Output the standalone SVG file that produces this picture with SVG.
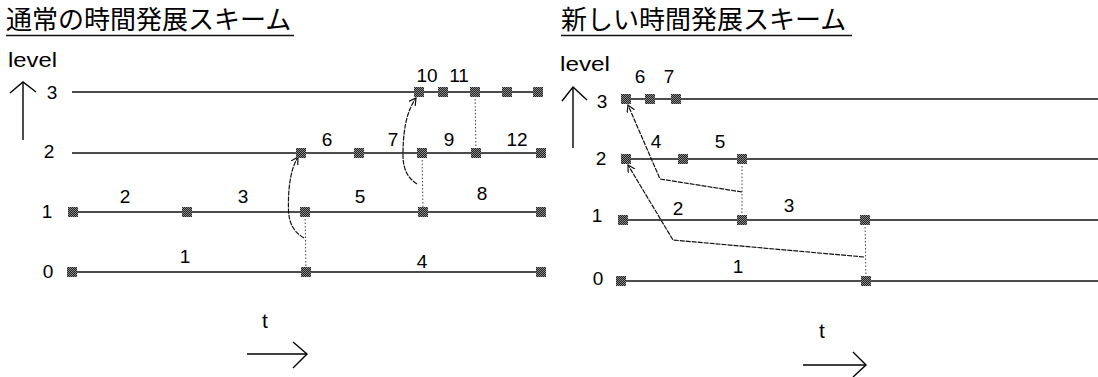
<svg xmlns="http://www.w3.org/2000/svg" width="1098" height="377" viewBox="0 0 1098 377">
<style>
.title{font-family:"Noto Sans CJK JP","Noto Sans",sans-serif;font-size:26px;fill:#000}
.t{font-family:"Liberation Sans",Arial,sans-serif;font-size:19px;fill:#000}
.lv{font-family:"Liberation Sans",Arial,sans-serif;font-size:20px;fill:#000}
.tt{font-family:"Liberation Sans",Arial,sans-serif;font-size:21px;fill:#000}
.line{stroke:#111;stroke-width:1.3;fill:none}
.ul{stroke:#111;stroke-width:1.7}
.dot{stroke:#444;stroke-width:1;stroke-dasharray:1.5,2;fill:none}
.conn{stroke:#111;stroke-width:1.2;fill:none;stroke-dasharray:5,1}
.ax{stroke:#000;stroke-width:1.4;fill:none}
.node{fill:url(#hatch)}
</style>
<defs>
<pattern id="hatch" width="2" height="2" patternUnits="userSpaceOnUse">
<rect width="2" height="2" fill="#222"/>
<rect width="1" height="1" fill="#8a8a8a"/>
<rect x="1" y="1" width="1" height="1" fill="#8a8a8a"/>
</pattern>
<marker id="ah" markerWidth="10" markerHeight="10" refX="7" refY="4" orient="auto" markerUnits="userSpaceOnUse">
<path d="M0,0 L7,4 L0,8" fill="none" stroke="#111" stroke-width="1.2"/>
</marker>
</defs>

<g id="title-left">
<text class="title" x="6" y="29">通常の時間発展スキーム</text>
<line class="ul" x1="6" y1="35.5" x2="294" y2="35.5"/>
</g>
<g id="title-right">
<text class="title" x="561" y="29">新しい時間発展スキーム</text>
<line class="ul" x1="561" y1="35.5" x2="852" y2="35.5"/>
</g>

<g id="axes-left">
<text class="lv" x="8" y="67" textLength="49" lengthAdjust="spacingAndGlyphs">level</text>
<line class="ax" x1="23" y1="82" x2="23" y2="140"/>
<polyline class="ax" points="10,93 23,82 36,92"/>
<text class="t" x="52" y="99" text-anchor="middle">3</text>
<text class="t" x="49" y="158" text-anchor="middle">2</text>
<text class="t" x="47" y="218" text-anchor="middle">1</text>
<text class="t" x="48" y="278" text-anchor="middle">0</text>
<text class="tt" x="265" y="328" text-anchor="middle">t</text>
<line class="ax" x1="247" y1="354" x2="307" y2="354"/>
<polyline class="ax" points="293,342 307,354 293,368"/>
</g>

<g id="axes-right">
<text class="lv" x="560" y="71" textLength="50" lengthAdjust="spacingAndGlyphs">level</text>
<line class="ax" x1="573" y1="87" x2="573" y2="148"/>
<polyline class="ax" points="562,101 573,87 587,100"/>
<text class="t" x="602" y="108" text-anchor="middle">3</text>
<text class="t" x="601" y="165" text-anchor="middle">2</text>
<text class="t" x="597" y="222" text-anchor="middle">1</text>
<text class="t" x="598" y="285" text-anchor="middle">0</text>
<text class="tt" x="822" y="338" text-anchor="middle">t</text>
<line class="ax" x1="803" y1="365" x2="866" y2="365"/>
<polyline class="ax" points="853,352 866,365 853,377"/>
</g>

<g id="levels-left">
<line class="line" x1="72" y1="92" x2="541" y2="92"/>
<line class="line" x1="72" y1="153" x2="541" y2="153"/>
<line class="line" x1="73" y1="212" x2="541" y2="212"/>
<line class="line" x1="72" y1="272" x2="541" y2="272"/>
</g>
<g id="levels-right">
<line class="line" x1="626" y1="99" x2="1098" y2="99"/>
<line class="line" x1="626" y1="159" x2="1098" y2="159"/>
<line class="line" x1="623" y1="220" x2="1098" y2="220"/>
<line class="line" x1="621" y1="281" x2="1098" y2="281"/>
</g>

<g id="labels-left">
<text class="t" x="427" y="82" text-anchor="middle">10</text>
<text class="t" x="459" y="82" text-anchor="middle">11</text>
<text class="t" x="327" y="146" text-anchor="middle">6</text>
<text class="t" x="393" y="146" text-anchor="middle">7</text>
<text class="t" x="449" y="146" text-anchor="middle">9</text>
<text class="t" x="517" y="146" text-anchor="middle">12</text>
<text class="t" x="125" y="203" text-anchor="middle">2</text>
<text class="t" x="243" y="203" text-anchor="middle">3</text>
<text class="t" x="360" y="203" text-anchor="middle">5</text>
<text class="t" x="482" y="200" text-anchor="middle">8</text>
<text class="t" x="185" y="263" text-anchor="middle">1</text>
<text class="t" x="422" y="268" text-anchor="middle">4</text>
</g>
<g id="labels-right">
<text class="t" x="640" y="83" text-anchor="middle">6</text>
<text class="t" x="669" y="83" text-anchor="middle">7</text>
<text class="t" x="656" y="148" text-anchor="middle">4</text>
<text class="t" x="720" y="148" text-anchor="middle">5</text>
<text class="t" x="678" y="215" text-anchor="middle">2</text>
<text class="t" x="789" y="212" text-anchor="middle">3</text>
<text class="t" x="738" y="273" text-anchor="middle">1</text>
</g>

<g id="connectors">
<line class="dot" x1="305" y1="212" x2="306" y2="272"/>
<line class="dot" x1="422" y1="153" x2="423" y2="212"/>
<line class="dot" x1="475" y1="92" x2="476" y2="153"/>
<path class="conn" d="M304,238 C294,232 289,224 288.5,210 C288,190 290,170 298,157" marker-end="url(#ah)"/>
<path class="conn" d="M417,184 C408,178 403,170 403,155 C403,132 406,112 416,98" marker-end="url(#ah)"/>
<line class="dot" x1="742" y1="159" x2="742" y2="220"/>
<line class="dot" x1="865" y1="220" x2="866" y2="281"/>
<polyline class="conn" points="742,192 660,179 628,105" marker-end="url(#ah)"/>
<polyline class="conn" points="864,257 673,240 628,165" marker-end="url(#ah)"/>
</g>

<g id="n-l3-1"><rect class="node" x="414" y="87" width="10" height="10"/></g>
<g id="n-l3-2"><rect class="node" x="438" y="87" width="10" height="10"/></g>
<g id="n-l3-3"><rect class="node" x="470" y="87" width="10" height="10"/></g>
<g id="n-l3-4"><rect class="node" x="502" y="87" width="10" height="10"/></g>
<g id="n-l3-5"><rect class="node" x="533" y="87" width="10" height="10"/></g>
<g id="n-l2-1"><rect class="node" x="296" y="148" width="10" height="10"/></g>
<g id="n-l2-2"><rect class="node" x="354" y="148" width="10" height="10"/></g>
<g id="n-l2-3"><rect class="node" x="417" y="148" width="10" height="10"/></g>
<g id="n-l2-4"><rect class="node" x="471" y="148" width="10" height="10"/></g>
<g id="n-l2-5"><rect class="node" x="536" y="148" width="10" height="10"/></g>
<g id="n-l1-1"><rect class="node" x="68" y="207" width="10" height="10"/></g>
<g id="n-l1-2"><rect class="node" x="182" y="207" width="10" height="10"/></g>
<g id="n-l1-3"><rect class="node" x="300" y="207" width="10" height="10"/></g>
<g id="n-l1-4"><rect class="node" x="418" y="207" width="10" height="10"/></g>
<g id="n-l1-5"><rect class="node" x="536" y="207" width="10" height="10"/></g>
<g id="n-l0-1"><rect class="node" x="67" y="267" width="10" height="10"/></g>
<g id="n-l0-2"><rect class="node" x="301" y="267" width="10" height="10"/></g>
<g id="n-l0-3"><rect class="node" x="536" y="267" width="10" height="10"/></g>

<g id="n-r3-1"><rect class="node" x="621" y="94" width="10" height="10"/></g>
<g id="n-r3-2"><rect class="node" x="645" y="94" width="10" height="10"/></g>
<g id="n-r3-3"><rect class="node" x="671" y="94" width="10" height="10"/></g>
<g id="n-r2-1"><rect class="node" x="621" y="154" width="10" height="10"/></g>
<g id="n-r2-2"><rect class="node" x="678" y="154" width="10" height="10"/></g>
<g id="n-r2-3"><rect class="node" x="737" y="154" width="10" height="10"/></g>
<g id="n-r1-1"><rect class="node" x="618" y="215" width="10" height="10"/></g>
<g id="n-r1-2"><rect class="node" x="737" y="215" width="10" height="10"/></g>
<g id="n-r1-3"><rect class="node" x="860" y="215" width="10" height="10"/></g>
<g id="n-r0-1"><rect class="node" x="616" y="276" width="10" height="10"/></g>
<g id="n-r0-2"><rect class="node" x="861" y="276" width="10" height="10"/></g>
</svg>
